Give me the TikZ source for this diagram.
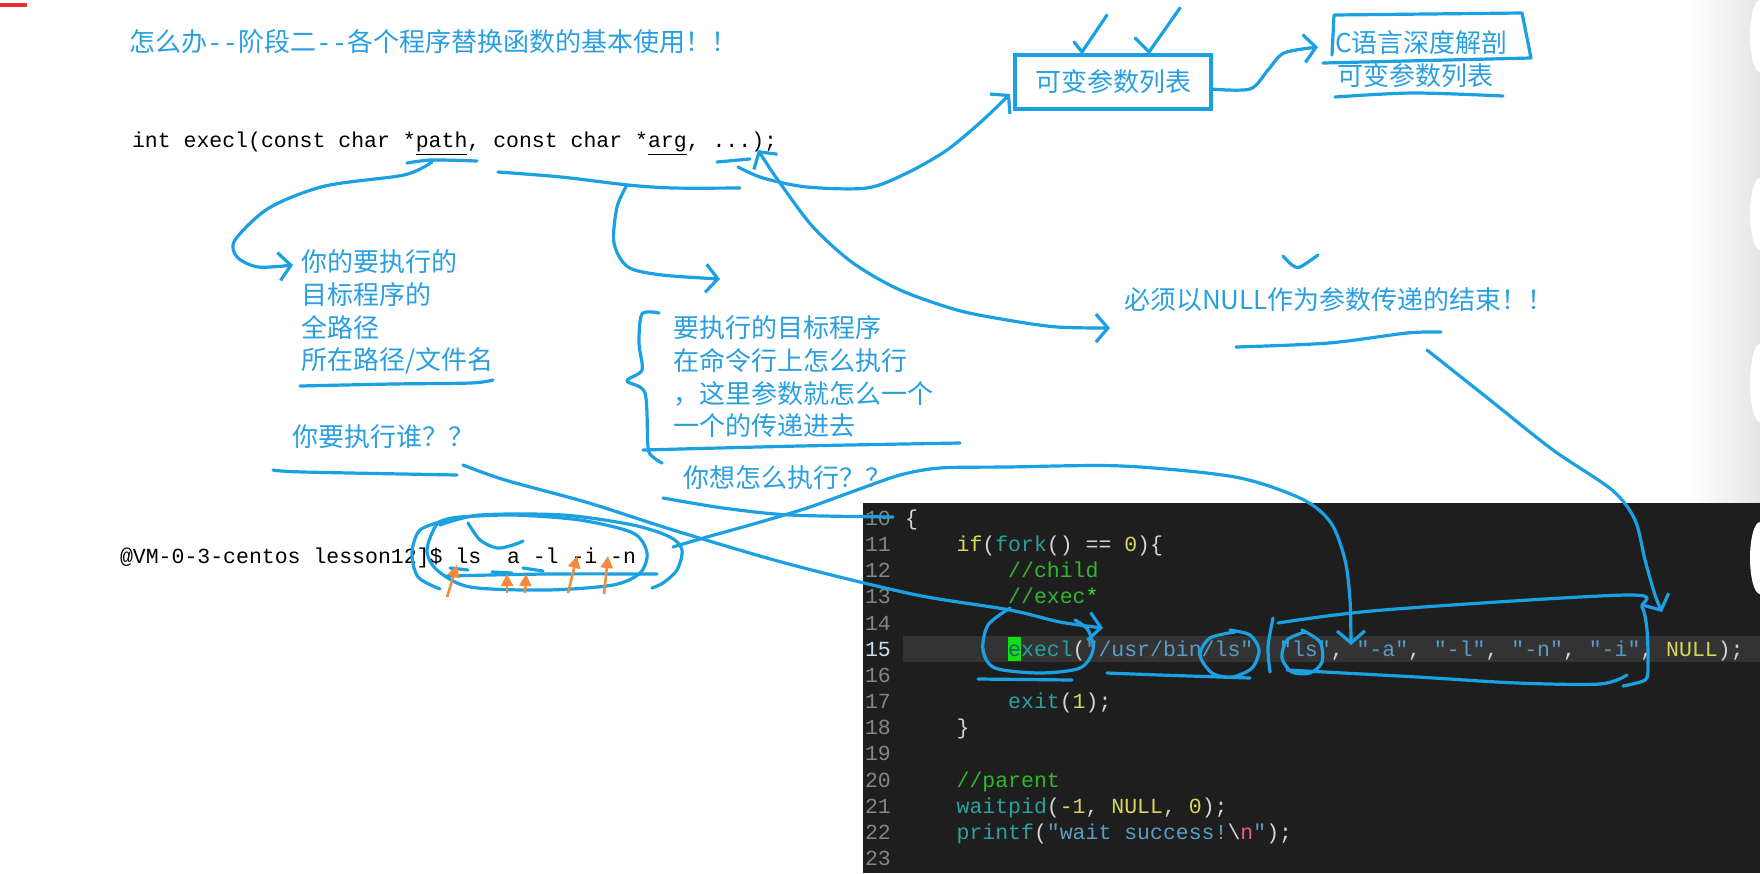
\documentclass[tikz,border=0pt]{standalone}
\usepackage{fontspec}
\usetikzlibrary{arrows.meta}
\usepackage{xcolor}
\newfontfamily\cjkfont{Noto Sans CJK SC}
\newfontfamily\codefont{Liberation Mono}
\frenchspacing
\definecolor{inkblue}{HTML}{1BA1E2}
\definecolor{noteblue}{HTML}{2A9FE0}
\definecolor{panelbg}{HTML}{1E1E1E}
\definecolor{curline}{HTML}{333333}
\definecolor{lineno}{HTML}{858585}
\definecolor{curno}{HTML}{C6E2F0}
\definecolor{codeyellow}{HTML}{D7D75F}
\definecolor{codeteal}{HTML}{2AA1A1}
\definecolor{codestr}{HTML}{5A9CC4}
\definecolor{codegreen}{HTML}{2EB82E}
\definecolor{codebright}{HTML}{3CE63C}
\definecolor{codewhite}{HTML}{D4D4D4}
\definecolor{codepink}{HTML}{E0608A}
\definecolor{cursorgreen}{HTML}{10E010}
\definecolor{markorange}{HTML}{F58A3C}
\definecolor{slidered}{HTML}{E8302C}
\newcommand{\ckw}[1]{\textcolor{codeyellow}{#1}}
\newcommand{\cfn}[1]{\textcolor{codeteal}{#1}}
\newcommand{\cstr}[1]{\textcolor{codestr}{#1}}
\newcommand{\ccmt}[1]{\textcolor{codegreen}{#1}}
\newcommand{\dashpair}{{\codefont-{}-}}

\begin{document}
\begin{tikzpicture}[x=0.5pt, y=-0.5pt,
  every node/.style={inner sep=0pt, outer sep=0pt},
  pen/.style={draw=inkblue, line width=1.6pt, line cap=round, line join=round},
  penarrow/.style={pen, -{Straight Barb[length=6pt,width=14pt]}},
  penboth/.style={pen, {Straight Barb[length=6pt,width=14pt]}-{Straight Barb[length=6pt,width=14pt]}},
  note/.style={text=noteblue, font=\cjkfont\fontsize{13}{16.3}\selectfont},
  code/.style={anchor=base west, font=\codefont\fontsize{10.75}{13}\selectfont, text=codewhite},
  lnum/.style={anchor=base west, font=\codefont\fontsize{10.75}{13}\selectfont, text=lineno},
  orangearrow/.style={draw=markorange, line width=1.3pt, -{Triangle[length=6pt,width=6pt]}}]

\useasboundingbox (0,0) rectangle (1760,873);
\fill[white] (0,0) rectangle (1760,873);
\shade[left color=white, right color=black!10] (1690,0) rectangle (1760,503);
\fill[white] (1760,36) ellipse [x radius=5pt, y radius=18pt];
\fill[white] (1760,214) ellipse [x radius=5pt, y radius=18pt];
\fill[white] (1760,383) ellipse [x radius=5pt, y radius=19.5pt];
\draw[slidered, line width=2pt] (0,5) -- (27,5);

% Title and prototype
\node[note, anchor=west] (title) at (129,42) {怎么办\dashpair 阶段二\dashpair 各个程序替换函数的基本使用！！};
\node[code, text=black] (proto) at (132,147) {int execl(const char *\underline{path}, const char *\underline{arg}, ...);};

% Variadic list box
\node[note, draw=inkblue, line width=1.8pt, minimum width=98pt, minimum height=27pt] (varbox) at (1113,82) {可变参数列表};
\draw[pen] (1074,42) -- (1082,52) -- (1107,15);
\draw[pen] (1135,38) -- (1149,52) -- (1180,8);
\node[note, anchor=west] (cbook) at (1335,43) {C语言深度解剖};
\draw[pen] (1332,55) -- (1334,15) -- (1522,13) -- (1531,58) -- (1323,63);
\node[note, anchor=west] (cbookvar) at (1337,76) {可变参数列表};
\draw[pen] plot[smooth] coordinates {(1335,97) (1413,93) (1503,96)};
\coordinate (varout) at ([yshift=-3.5pt]varbox.east);
\coordinate (cbookin) at (1318,47);
\draw[penarrow] plot[smooth, tension=0.5] coordinates {(varout) (1250,89) (1268,70) (1284,53) (cbookin)};

% NULL note
\node[note, anchor=west] (nullnote) at (1124,300) {必须以NULL作为参数传递的结束！！};
\draw[pen] plot[smooth] coordinates {(1283,256) (1292,265) (1300,267) (1318,255)};
\draw[pen] plot[smooth] coordinates {(1236,347) (1329,343) (1407,333) (1441,332)};

% path note
\draw[pen] plot[smooth] coordinates {(407,163) (432,160) (477,161)};
\coordinate (pathu) at (432,162);
\node[note, anchor=north west, align=left] (pathnote) at (301,250) {你的要执行的\\目标程序的\\全路径\\所在路径/文件名};
\coordinate (pathin) at (293,265);
\draw[penarrow] plot[smooth] coordinates {(pathu) (404,175) (325,186) (269,208) (235,240) (237,257) (258,267) (pathin)};
\draw[pen] plot[smooth] coordinates {(300,386) (393,384) (471,383) (493,380)};
\node[note, anchor=west] (whonote) at (292,437) {你要执行谁？？};
\draw[pen] plot[smooth] coordinates {(273,470) (303,472) (457,475)};

% arg note
\draw[pen] plot[smooth] coordinates {(498,172) (561,177) (628,185) (673,188) (740,188)};
\coordinate (argu) at (627,185);
\coordinate (howin) at (720,279);
\draw[penarrow] plot[smooth] coordinates {(argu) (617,207) (614,243) (628,267) (662,275) (howin)};
\draw[pen] plot[smooth] coordinates {(659,313) (642,314) (639,343) (642,370) (627,381) (645,393) (648,447) (653,457) (662,463)};
\node[note, anchor=north west, align=left] (hownote) at (673,316) {要执行的目标程序\\在命令行上怎么执行\\，这里参数就怎么一个\\一个的传递进去};
\draw[pen] plot[smooth] coordinates {(643,450) (800,446) (960,443)};
\node[note, anchor=west] (wishnote) at (683,478) {你想怎么执行？？};

% dots and closing parenthesis
\draw[pen] (717,162) -- (750,159);
\coordinate (dotsu) at (738,167);
\coordinate (boxin) at (1010,94);
\draw[penarrow] plot[smooth] coordinates {(dotsu) (763,178) (807,187) (867,188) (907,173) (947,150) (983,120) (boxin)};
\coordinate (closep) at (758,150);
\coordinate (nullin) at (1110,328);
\draw[penboth] plot[smooth] coordinates {(closep) (780,183) (813,227) (853,263) (900,290) (957,310) (1007,320) (1057,327) (nullin)};

% Terminal line
\node[code, text=black] (term) at (120,563) {@VM-0-3-centos lesson12]\$ ls\ \ a -l -i -n};
\draw[pen] plot[smooth] coordinates {(447,520) (420,530) (412,553) (418,577) (440,589)};
\draw[pen] plot[smooth] coordinates {(460,517) (438,523) (427,550) (437,570) (470,587) (547,590) (613,585) (640,573) (647,553) (633,533) (580,520) (513,515) (460,517)};
\draw[pen] plot[smooth] coordinates {(440,525) (480,515) (563,515) (633,525) (670,537) (682,550) (677,570) (663,583) (652,588)};
\draw[pen] plot[smooth] coordinates {(468,523) (480,540) (497,548) (513,545) (523,541)};
\draw[pen] plot[smooth] coordinates {(447,576) (547,574) (657,574)};
\draw[pen] (450,568) -- (468,570);
\draw[pen] (492,572) -- (512,573);
\draw[pen] (523,568) -- (543,571);
\draw[orangearrow] (447,597) -- (457,565);
\draw[orangearrow] (507,593) -- (507,574);
\draw[orangearrow] (525,593) -- (526,574);
\draw[orangearrow] (568,593) -- (577,556);
\draw[orangearrow] (604,594) -- (608,556);

% Code panel
\fill[panelbg] (863,503) rectangle (1760,873);
\fill[curline] (903,636) rectangle (1760,662);
\fill[white] (1760,558) ellipse [x radius=5pt, y radius=18pt];
\fill[cursorgreen] (1008,637) rectangle (1021,661);
\node[lnum] (n10) at (865,525) {10};
\node[lnum] (n11) at (865,551) {11};
\node[lnum] (n12) at (865,577) {12};
\node[lnum] (n13) at (865,603) {13};
\node[lnum] (n14) at (865,630) {14};
\node[lnum, text=curno] (n15) at (865,656) {15};
\node[lnum] (n16) at (865,682) {16};
\node[lnum] (n17) at (865,708) {17};
\node[lnum] (n18) at (865,734) {18};
\node[lnum] (n19) at (865,760) {19};
\node[lnum] (n20) at (865,787) {20};
\node[lnum] (n21) at (865,813) {21};
\node[lnum] (n22) at (865,839) {22};
\node[lnum] (n23) at (865,865) {23};
\node[code] (c10) at (905,525) {\{};
\node[code] (c11) at (956.6,551) {\ckw{if}(\cfn{fork}() == \ckw{0})\{};
\node[code] (c12) at (1008.2,577) {\ccmt{//child}};
\node[code] (c13) at (1008.2,603) {\ccmt{//exec}\textcolor{codebright}{*}};
\node[code] (c15) at (1008.2,656) {\textcolor{codeteal!60!black}{e}\cfn{xecl}(\cstr{"/usr/bin/ls"}, \cstr{"ls"}, \cstr{"-a"}, \cstr{"-l"}, \cstr{"-n"}, \cstr{"-i"}, \ckw{NULL});};
\node[code] (c17) at (1008.2,708) {\cfn{exit}(\ckw{1});};
\node[code] (c18) at (956.6,734) {\}};
\node[code] (c20) at (956.6,787) {\ccmt{//parent}};
\node[code] (c21) at (956.6,813) {\cfn{waitpid}(\ckw{-1}, \ckw{NULL}, \ckw{0});};
\node[code] (c22) at (956.6,839) {\cfn{printf}(\cstr{"wait success!}\textbackslash\textcolor{codepink}{n}\cstr{"});};

% Marks on the code
\draw[pen] plot[smooth] coordinates {(663,498) (723,508) (790,515) (893,517)};
\coordinate (whoout) at (463,465);
\coordinate (execin) at (1103,628);
\draw[penarrow] plot[smooth] coordinates {(whoout) (505,480) (589,503) (673,530) (774,560) (860,582) (927,597) (1010,610) (1060,622) (execin)};
\coordinate (termout) at (673,547);
\coordinate (argin) at (1351,645);
\draw[penarrow] plot[smooth] coordinates {(termout) (707,537) (757,523) (807,508) (857,490) (900,475) (940,468) (1007,467) (1122,466) (1235,477) (1302,499) (1331,523) (1345,560) (1350,600) (argin)};
\coordinate (nullout) at (1427,350);
\coordinate (nullend) at (1662,612);
\draw[penarrow] plot[smooth] coordinates {(nullout) (1490,400) (1553,450) (1612,490) (1635,520) (1645,560) (1655,595) (nullend)};
\draw[pen] plot[smooth] coordinates {(1010,608) (988,625) (983,650) (995,668) (1040,673) (1080,668) (1093,650) (1088,630) (1075,620)};
\draw[pen] (978,679) -- (1072,680);
\draw[pen] plot[smooth] coordinates {(1107,673) (1160,675) (1250,678)};
\draw[pen] plot[smooth] coordinates {(1235,632) (1210,638) (1200,655) (1212,673) (1232,677) (1252,668) (1259,650) (1250,635) (1230,630)};
\draw[pen] plot[smooth] coordinates {(1273,618) (1268,647) (1270,672)};
\draw[pen] plot[smooth] coordinates {(1305,632) (1287,640) (1282,658) (1292,672) (1310,673) (1322,662) (1320,642) (1302,630)};
\draw[pen] plot[smooth] coordinates {(1278,623) (1383,610) (1627,595) (1642,607) (1647,630) (1648,667) (1645,680) (1623,686)};
\draw[pen] plot[smooth] coordinates {(1287,670) (1417,677) (1517,683) (1600,684) (1627,675)};
\end{tikzpicture}
\end{document}
